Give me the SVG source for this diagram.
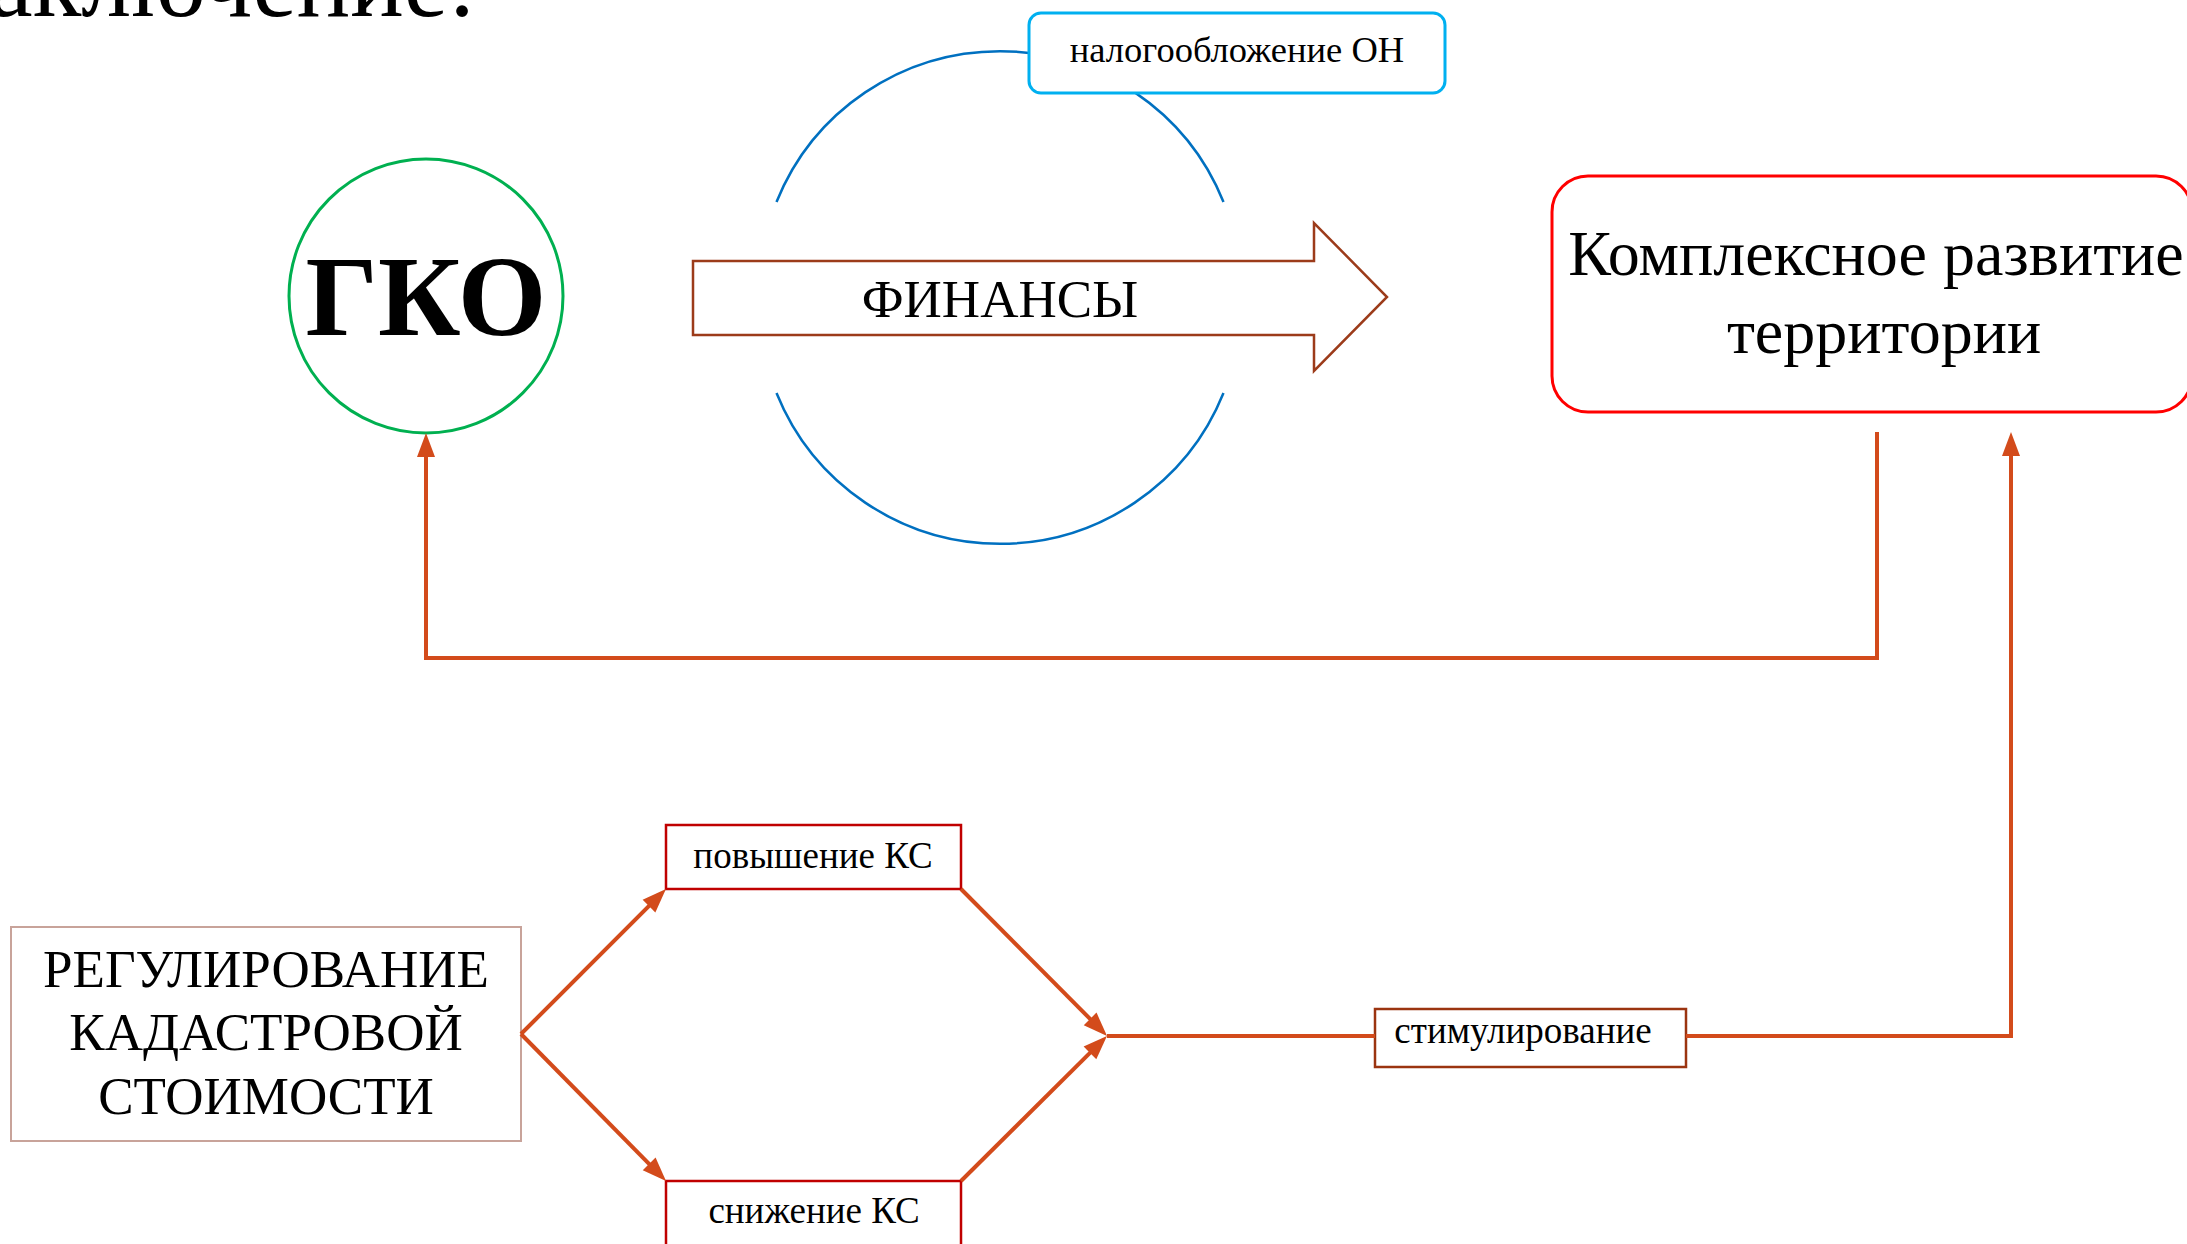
<svg xmlns="http://www.w3.org/2000/svg" width="2187" height="1244" viewBox="0 0 2187 1244">
<style>
  text { font-family: "Liberation Serif", "Times New Roman", serif; fill: #000; }
  .c { text-anchor: middle; }
  .conn { fill: none; stroke: #D34B1B; stroke-width: 4; stroke-linejoin: miter; }
  .ring { fill: none; stroke: #0070C0; stroke-width: 2.5; }
  .ks { fill: #fff; stroke: #C00000; stroke-width: 2.5; }
</style>
<defs>
  <marker id="ah" markerUnits="userSpaceOnUse" markerWidth="24" markerHeight="18" refX="16" refY="9" orient="auto" overflow="visible">
    <path d="M0,0 L24,9 L0,18 Z" fill="#D34B1B"/>
  </marker>
</defs>
<rect width="2187" height="1244" fill="#fff"/>

<text id="title" x="476" y="16" font-size="100" text-anchor="end">Заключение:</text>

<g id="ring">
  <path class="ring" d="M 776.5 202 A 241 241 0 0 1 1223.5 202"/>
  <path class="ring" d="M 776.5 393 A 241 241 0 0 0 1223.5 393"/>
</g>

<g id="tax">
  <rect x="1029" y="13" width="416" height="80" rx="12" fill="#fff" stroke="#00B0F0" stroke-width="3"/>
  <text class="c" x="1237" y="62" font-size="36.5">налогообложение ОН</text>
</g>

<g id="gko">
  <circle cx="426" cy="296" r="137" fill="#fff" stroke="#00B050" stroke-width="3"/>
  <text class="c" x="426" y="335" font-size="114" font-weight="bold">ГКО</text>
</g>

<g id="finance">
  <path d="M693 261 H1314 V223 L1387 297 L1314 371 V335 H693 Z" fill="#fff" stroke="#9C3B1A" stroke-width="2.5"/>
  <text class="c" x="1000" y="317" font-size="53">ФИНАНСЫ</text>
</g>

<g id="ktr">
  <rect x="1552" y="176" width="640" height="236" rx="36" fill="#fff" stroke="#FF0000" stroke-width="3"/>
  <text class="c" x="1876" y="275" font-size="64">Комплексное развитие</text>
  <text class="c" x="1884" y="353" font-size="64">территории</text>
</g>

<g id="reg">
  <rect x="11" y="927" width="510" height="214" fill="#fff" stroke="#C8A39A" stroke-width="2"/>
  <text class="c" x="266" y="987" font-size="53">РЕГУЛИРОВАНИЕ</text>
  <text class="c" x="266" y="1050" font-size="53">КАДАСТРОВОЙ</text>
  <text class="c" x="266" y="1114" font-size="53">СТОИМОСТИ</text>
</g>

<g id="up">
  <rect class="ks" x="666" y="825" width="295" height="64"/>
  <text class="c" x="813" y="868" font-size="37">повышение КС</text>
</g>

<g id="down">
  <rect class="ks" x="666" y="1181" width="295" height="70"/>
  <text class="c" x="814" y="1223" font-size="37">снижение КС</text>
</g>

<g id="stim">
  <rect x="1375" y="1009" width="311" height="58" fill="#fff" stroke="#9B3410" stroke-width="2.5"/>
  <text class="c" x="1523" y="1043" font-size="37">стимулирование</text>
</g>

<g id="connectors">
  <path class="conn" d="M1877 432 V658 H426 V441" marker-end="url(#ah)"/>
  <path class="conn" d="M521 1034 L660.3 894.7" marker-end="url(#ah)"/>
  <path class="conn" d="M521 1034 L660.4 1175.3" marker-end="url(#ah)"/>
  <path class="conn" d="M961 889 L1101.4 1030.3" marker-end="url(#ah)"/>
  <path class="conn" d="M961 1181 L1101.3 1041.6" marker-end="url(#ah)"/>
  <path class="conn" d="M1107 1036 H1375"/>
  <path class="conn" d="M1686 1036 H2011 V440" marker-end="url(#ah)"/>
</g>
</svg>
